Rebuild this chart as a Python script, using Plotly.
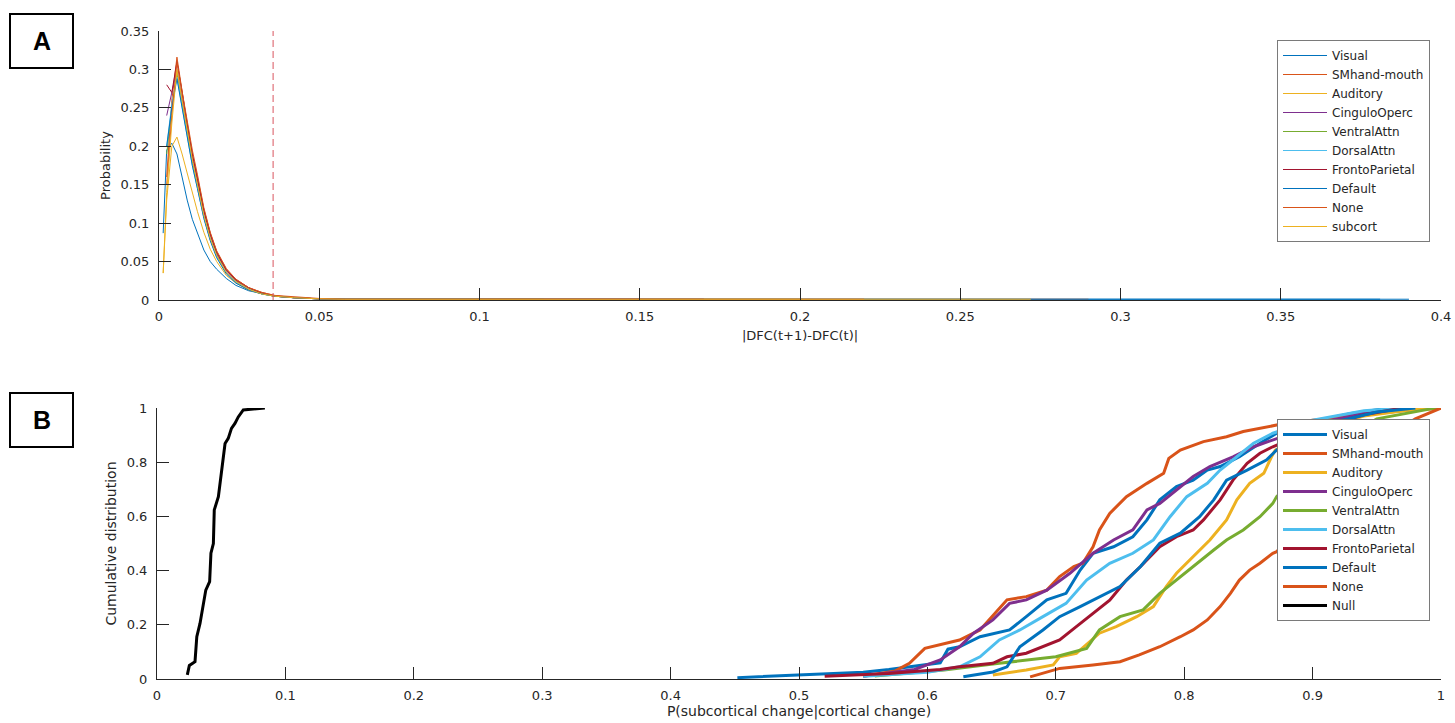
import plotly.graph_objects as go

# ---------------- Panel A data ----------------
networks_a = ["Visual", "SMhand-mouth", "Auditory", "CinguloOperc", "VentralAttn",
              "DorsalAttn", "FrontoParietal", "Default", "None", "subcort"]
colors_a = ["#0072BD", "#D95319", "#EDB120", "#7E2F8E", "#77AC30",
            "#4DBEEE", "#A2142F", "#0072BD", "#D95319", "#EDB120"]
x_bins = [0.0013, 0.0024, 0.0040, 0.0056, 0.0072, 0.0088, 0.0104, 0.012, 0.014, 0.016,
          0.018, 0.021, 0.024, 0.028, 0.032, 0.036, 0.042, 0.05, 0.058]
prob_visual = [0.087, 0.195, 0.204, 0.19, 0.16, 0.13, 0.105, 0.087, 0.065, 0.05, 0.04, 0.028, 0.019, 0.012, 0.008, 0.005, 0.003, 0.0015, 0.001]
prob_smhand = [None, 0.16, 0.26, 0.316, 0.27, 0.228, 0.19, 0.16, 0.118, 0.087, 0.063, 0.04, 0.027, 0.016, 0.01, 0.006, 0.003, 0.0015, 0.001]
prob_auditory = [0.035, 0.13, 0.2, 0.212, 0.19, 0.165, 0.14, 0.115, 0.088, 0.066, 0.05, 0.032, 0.022, 0.013, 0.008, 0.005, 0.003, 0.0015, 0.001]
prob_cingulo = [None, 0.24, 0.27, 0.30, 0.262, 0.222, 0.186, 0.155, 0.115, 0.084, 0.06, 0.038, 0.025, 0.015, 0.009, 0.005, 0.003, 0.0015, 0.001]
prob_ventral = [None, 0.19, 0.25, 0.295, 0.255, 0.215, 0.18, 0.15, 0.11, 0.08, 0.058, 0.036, 0.024, 0.014, 0.008, 0.005, 0.003, 0.0015, 0.001]
prob_dorsal = [None, 0.2, 0.255, 0.29, 0.25, 0.21, 0.175, 0.145, 0.107, 0.078, 0.056, 0.035, 0.023, 0.014, 0.008, 0.005, 0.003, 0.0015, 0.001]
prob_fronto = [None, 0.28, 0.27, 0.31, 0.268, 0.228, 0.19, 0.158, 0.117, 0.086, 0.062, 0.039, 0.026, 0.016, 0.009, 0.005, 0.003, 0.0015, 0.001]
prob_default = [None, 0.2, 0.25, 0.288, 0.25, 0.21, 0.175, 0.145, 0.106, 0.077, 0.055, 0.034, 0.022, 0.013, 0.008, 0.005, 0.003, 0.0015, 0.001]
prob_none = [None, 0.15, 0.24, 0.31, 0.272, 0.232, 0.195, 0.163, 0.12, 0.088, 0.064, 0.041, 0.027, 0.016, 0.01, 0.006, 0.004, 0.002, 0.001]
prob_subcort = [0.035, 0.14, 0.23, 0.30, 0.26, 0.22, 0.183, 0.15, 0.11, 0.08, 0.058, 0.036, 0.024, 0.014, 0.008, 0.005, 0.003, 0.0015, 0.001]
tail_end = [0.381, 0.29, 0.20, 0.15, 0.12, 0.10, 0.17, 0.39, 0.22, 0.272]
tail_value = 0.001
threshold = 0.0356

probs_a = [prob_visual, prob_smhand, prob_auditory, prob_cingulo, prob_ventral,
           prob_dorsal, prob_fronto, prob_default, prob_none, prob_subcort]

# ---------------- Panel B data ----------------
networks_b = ["Visual", "SMhand-mouth", "Auditory", "CinguloOperc", "VentralAttn",
              "DorsalAttn", "FrontoParietal", "Default", "None", "Null"]
colors_b = ["#0072BD", "#D95319", "#EDB120", "#7E2F8E", "#77AC30",
            "#4DBEEE", "#A2142F", "#0072BD", "#D95319", "#000000"]

visual_x = [0.452, 0.50, 0.55, 0.57, 0.61, 0.616, 0.625, 0.641, 0.664, 0.677, 0.693, 0.708, 0.719, 0.729, 0.745, 0.760, 0.771, 0.781, 0.794, 0.807, 0.818, 0.828, 0.843, 0.859, 0.872, 0.90, 0.93, 0.96]
visual_y = [0.005, 0.015, 0.025, 0.035, 0.06, 0.11, 0.119, 0.156, 0.181, 0.230, 0.292, 0.316, 0.402, 0.464, 0.488, 0.525, 0.587, 0.661, 0.710, 0.734, 0.771, 0.784, 0.820, 0.870, 0.907, 0.95, 0.98, 1.0]
smhand_x = [0.55, 0.575, 0.586, 0.598, 0.625, 0.641, 0.662, 0.677, 0.693, 0.703, 0.714, 0.721, 0.729, 0.734, 0.742, 0.755, 0.771, 0.784, 0.788, 0.797, 0.815, 0.833, 0.846, 0.859, 0.872, 0.90, 0.94, 0.97, 1.0]
smhand_y = [0.01, 0.03, 0.058, 0.113, 0.144, 0.181, 0.292, 0.304, 0.328, 0.378, 0.415, 0.427, 0.488, 0.550, 0.611, 0.673, 0.722, 0.759, 0.814, 0.845, 0.876, 0.894, 0.913, 0.925, 0.937, 0.955, 0.975, 0.99, 1.0]
auditory_x = [0.651, 0.677, 0.698, 0.703, 0.716, 0.734, 0.747, 0.763, 0.776, 0.786, 0.794, 0.807, 0.820, 0.833, 0.841, 0.851, 0.862, 0.868, 0.871, 0.90, 0.94, 0.98, 1.0]
auditory_y = [0.015, 0.033, 0.052, 0.082, 0.095, 0.169, 0.193, 0.230, 0.267, 0.341, 0.390, 0.451, 0.513, 0.587, 0.661, 0.722, 0.759, 0.820, 0.845, 0.92, 0.97, 0.995, 1.0]
cingulo_x = [0.55, 0.59, 0.61, 0.625, 0.636, 0.651, 0.664, 0.677, 0.693, 0.711, 0.729, 0.745, 0.760, 0.771, 0.781, 0.794, 0.807, 0.820, 0.838, 0.854, 0.869, 0.91, 0.95, 0.975]
cingulo_y = [0.01, 0.035, 0.07, 0.119, 0.169, 0.218, 0.279, 0.292, 0.328, 0.390, 0.464, 0.513, 0.550, 0.624, 0.648, 0.697, 0.747, 0.784, 0.820, 0.857, 0.882, 0.95, 0.99, 1.0]
ventral_x = [0.559, 0.613, 0.656, 0.700, 0.724, 0.734, 0.750, 0.768, 0.781, 0.797, 0.807, 0.823, 0.833, 0.846, 0.859, 0.869, 0.872, 0.91, 0.95, 0.99, 1.0]
ventral_y = [0.011, 0.033, 0.058, 0.082, 0.113, 0.181, 0.230, 0.255, 0.316, 0.378, 0.415, 0.476, 0.513, 0.550, 0.599, 0.648, 0.673, 0.85, 0.96, 0.995, 1.0]
dorsal_x = [0.55, 0.60, 0.625, 0.641, 0.656, 0.672, 0.690, 0.708, 0.724, 0.742, 0.760, 0.776, 0.789, 0.802, 0.818, 0.828, 0.841, 0.854, 0.869, 0.90, 0.94, 0.97]
dorsal_y = [0.01, 0.025, 0.045, 0.082, 0.144, 0.181, 0.230, 0.279, 0.365, 0.427, 0.464, 0.513, 0.599, 0.673, 0.722, 0.771, 0.820, 0.870, 0.907, 0.955, 0.99, 1.0]
fronto_x = [0.52, 0.57, 0.61, 0.625, 0.651, 0.662, 0.677, 0.690, 0.703, 0.716, 0.729, 0.742, 0.755, 0.766, 0.781, 0.794, 0.807, 0.815, 0.828, 0.838, 0.849, 0.859, 0.869, 0.90, 0.94, 0.97]
fronto_y = [0.01, 0.02, 0.035, 0.045, 0.058, 0.082, 0.095, 0.119, 0.144, 0.193, 0.242, 0.291, 0.365, 0.415, 0.488, 0.525, 0.550, 0.587, 0.661, 0.734, 0.796, 0.833, 0.857, 0.92, 0.975, 1.0]
default_x = [0.628, 0.651, 0.662, 0.672, 0.690, 0.703, 0.719, 0.734, 0.750, 0.766, 0.781, 0.797, 0.812, 0.823, 0.833, 0.849, 0.864, 0.872, 0.91, 0.95, 0.98]
default_y = [0.008, 0.026, 0.045, 0.119, 0.181, 0.230, 0.267, 0.304, 0.341, 0.415, 0.501, 0.538, 0.599, 0.661, 0.734, 0.771, 0.808, 0.845, 0.94, 0.985, 1.0]
none_x = [0.68, 0.703, 0.729, 0.750, 0.765, 0.781, 0.797, 0.807, 0.818, 0.828, 0.836, 0.843, 0.851, 0.859, 0.869, 0.872, 0.90, 0.93, 0.96, 0.98, 1.0]
none_y = [0.008, 0.039, 0.052, 0.064, 0.089, 0.119, 0.156, 0.181, 0.218, 0.267, 0.316, 0.365, 0.402, 0.427, 0.464, 0.470, 0.62, 0.78, 0.90, 0.96, 1.0]
null_x = [0.0236, 0.0252, 0.0296, 0.031, 0.0335, 0.036, 0.038, 0.041, 0.042, 0.0439, 0.0446, 0.0478, 0.0504, 0.053, 0.0555, 0.058, 0.0607, 0.0633, 0.0672, 0.075, 0.084]
null_y = [0.015, 0.05, 0.064, 0.156, 0.205, 0.267, 0.328, 0.359, 0.464, 0.50, 0.624, 0.673, 0.771, 0.869, 0.888, 0.925, 0.943, 0.967, 0.993, 0.997, 1.0]

curves_b = [(visual_x, visual_y), (smhand_x, smhand_y), (auditory_x, auditory_y),
            (cingulo_x, cingulo_y), (ventral_x, ventral_y), (dorsal_x, dorsal_y),
            (fronto_x, fronto_y), (default_x, default_y), (none_x, none_y), (null_x, null_y)]

ticks_a_x = [0, 0.05, 0.1, 0.15, 0.2, 0.25, 0.3, 0.35, 0.4]
ticks_a_y = [0, 0.05, 0.1, 0.15, 0.2, 0.25, 0.3, 0.35]
ticks_b_x = [0, 0.1, 0.2, 0.3, 0.4, 0.5, 0.6, 0.7, 0.8, 0.9, 1]
ticks_b_y = [0, 0.2, 0.4, 0.6, 0.8, 1]

# ---------------- Figure ----------------
W, H = 1455, 723
FONT = "DejaVu Sans"
AX = "#262626"

fig = go.Figure()

for name, col, yv, te in zip(networks_a, colors_a, probs_a, tail_end):
    fig.add_trace(go.Scatter(
        x=x_bins + [te], y=yv + [tail_value], mode="lines", name=name,
        line=dict(color=col, width=1), xaxis="x", yaxis="y", legend="legend"))

fig.add_trace(go.Scatter(
    x=[threshold, threshold], y=[0, ticks_a_y[-1]], mode="lines", showlegend=False,
    line=dict(color="#D9545F", width=1, dash="7px,4px"), xaxis="x", yaxis="y"))

for name, col, (xs, ys) in zip(networks_b, colors_b, curves_b):
    fig.add_trace(go.Scatter(
        x=xs, y=ys, mode="lines", name=name, line=dict(color=col, width=3),
        xaxis="x2", yaxis="y2", legend="legend2"))

axis_common = dict(
    showline=True, linecolor=AX, linewidth=1, mirror=False,
    ticks="inside", ticklen=12, tickwidth=1, tickcolor=AX,
    showgrid=False, zeroline=False, automargin=False,
    tickfont=dict(family=FONT, size=13, color=AX),
)

legend_common = dict(
    xanchor="left", yanchor="top",
    bgcolor="white", bordercolor="#7a7a7a", borderwidth=1,
    font=dict(family=FONT, size=12, color="#262626"),
    itemwidth=44, tracegroupgap=0,
)

fig.update_layout(
    width=W, height=H, margin=dict(l=0, r=0, t=0, b=0, autoexpand=False),
    paper_bgcolor="white", plot_bgcolor="white",
    font=dict(family=FONT, color=AX),
    xaxis=dict(domain=[159 / W, 1441 / W], range=[0, 0.4], tickvals=ticks_a_x,
               ticktext=[f"{v:g}" for v in ticks_a_x], anchor="y",
               title=dict(text="|DFC(t+1)-DFC(t)|", font=dict(size=13, family=FONT, color=AX), standoff=8),
               ticklabelstandoff=4, **axis_common),
    yaxis=dict(domain=[1 - 300 / H, 1 - 31 / H], range=[0, 0.35], tickvals=ticks_a_y,
               ticktext=[f"{v:g}" for v in ticks_a_y], anchor="x",
               title=dict(text="Probability", font=dict(size=13, family=FONT, color=AX), standoff=6),
               ticklabelstandoff=6, **axis_common),
    xaxis2=dict(domain=[157 / W, 1441 / W], range=[0, 1], tickvals=ticks_b_x,
                ticktext=[f"{v:g}" for v in ticks_b_x], anchor="y2",
                title=dict(text="P(subcortical change|cortical change)", font=dict(size=14, family=FONT, color=AX), standoff=4),
                ticklabelstandoff=4, **axis_common),
    yaxis2=dict(domain=[1 - 679 / H, 1 - 408 / H], range=[0, 1], tickvals=ticks_b_y,
                ticktext=[f"{v:g}" for v in ticks_b_y], anchor="x2",
                title=dict(text="Cumulative distribution", font=dict(size=14, family=FONT, color=AX), standoff=6),
                ticklabelstandoff=6, **axis_common),
    legend=dict(x=1277 / W, y=1 - 40 / H, **legend_common),
    legend2=dict(x=1277 / W, y=1 - 419 / H, **legend_common),
    showlegend=True,
)

# panel letters
for letter, top in (("A", 14), ("B", 393)):
    fig.add_shape(type="rect", xref="paper", yref="paper",
                  x0=10 / W, x1=73 / W, y0=1 - (top + 54) / H, y1=1 - top / H,
                  line=dict(color="black", width=2), fillcolor="white")
    fig.add_annotation(text=f"<b>{letter}</b>", xref="paper", yref="paper",
                       x=41.5 / W, y=1 - (top + 27) / H, xanchor="center", yanchor="middle",
                       showarrow=False,
                       font=dict(family="Liberation Sans", size=25, color="black"))

fig.write_html("out.html")
